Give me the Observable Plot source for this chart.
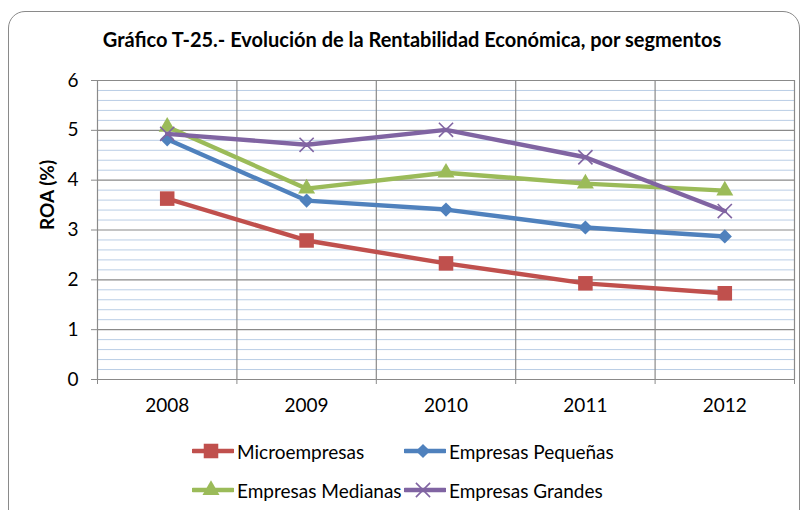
<!DOCTYPE html>
<html>
<head>
<meta charset="utf-8">
<script src="https://cdn.jsdelivr.net/npm/d3@7"></script>
<script src="https://cdn.jsdelivr.net/npm/@observablehq/plot@0.6"></script>
<style>
  html, body { margin: 0; padding: 0; background: #fff; }
  #wrap { position: relative; width: 803px; height: 510px; overflow: hidden; background: #fff; font-family: Lato, "Open Sans", sans-serif; }
  #border { position: absolute; left: 8px; top: 11px; width: 792px; height: 600px; border: 1.5px solid #8a8a8a; border-radius: 17px; box-sizing: border-box; }
  #title { position: absolute; left: 412px; top: 27px; transform: translateX(-50%); white-space: nowrap; font-weight: bold; font-size: 20px; line-height: 24px; color: #000; }
  #chart { position: absolute; left: 0; top: 0; }
  .leg { position: absolute; display: flex; align-items: center; font-size: 19px; color: #000; white-space: nowrap; }
  .leg svg { display: block; margin-right: 3px; }
</style>
</head>
<body>
<div id="wrap">
  <div id="border"></div>
  <div id="chart"></div>
  <div id="title"></div>
</div>
<script>
const title = "Gráfico T-25.- Evolución de la Rentabilidad Económica, por segmentos";
const yLabel = "ROA (%)";
const years = [2008, 2009, 2010, 2011, 2012];
const seriesNames = ["Microempresas", "Empresas Pequeñas", "Empresas Medianas", "Empresas Grandes"];
const micro = [3.63, 2.79, 2.33, 1.93, 1.73];
const pequenas = [4.82, 3.59, 3.41, 3.05, 2.87];
const medianas = [5.07, 3.83, 4.15, 3.93, 3.79];
const grandes = [4.93, 4.71, 5.01, 4.46, 3.38];
const yTicks = [0, 1, 2, 3, 4, 5, 6];

const colors = ["#C0504D", "#4F81BD", "#9BBB59", "#8064A2"];
const symbols = ["square", "diamond2", "triangle", "times"];
const radii = [8.2, 6.4, 6.3, 6.5];
const values = [micro, pequenas, medianas, grandes];

const data = [];
seriesNames.forEach((s, i) => years.forEach((yr, j) => data.push({series: s, year: yr, value: values[i][j]})));

const bounds = d3.range(d3.min(years) - 0.5, d3.max(years) + 0.51, 1);
const minor = d3.range(0, 6.001, 0.2).filter(v => Math.abs(v - Math.round(v)) > 0.01);

document.getElementById("title").textContent = title;

const marks = [
  Plot.gridY(minor, {stroke: "#B9CDE5", strokeOpacity: 1, strokeWidth: 1}),
  Plot.gridY(yTicks, {stroke: "#8a8a8a", strokeOpacity: 1, strokeWidth: 1.2}),
  Plot.gridX(bounds, {stroke: "#8a8a8a", strokeOpacity: 1, strokeWidth: 1.2}),
  Plot.axisY(yTicks, {tickSize: 6, tickPadding: 13, tickFormat: d => String(d), stroke: "#8a8a8a", fill: "#000", fontSize: 19, label: null}),
  Plot.axisX(bounds, {tickSize: 5, tickFormat: () => "", stroke: "#8a8a8a", label: null}),
  Plot.axisX(years, {tickSize: 0, tickPadding: 19, tickFormat: d => String(d), fill: "#000", fontSize: 19, label: null}),
  Plot.text([yLabel], {frameAnchor: "left", dx: -50, rotate: -90, fontWeight: "bold", fontSize: 19, fill: "#000"})
];
seriesNames.forEach((s, i) => {
  const sub = data.filter(d => d.series === s);
  marks.push(Plot.line(sub, {x: "year", y: "value", stroke: colors[i], strokeWidth: 4.4, strokeLinejoin: "round"}));
  if (symbols[i] === "times") {
    marks.push(Plot.dot(sub, {x: "year", y: "value", symbol: symbols[i], r: radii[i], stroke: colors[i], strokeWidth: 1.6, fill: "none"}));
  } else {
    marks.push(Plot.dot(sub, {x: "year", y: "value", symbol: symbols[i], r: radii[i], fill: colors[i], stroke: "none"}));
  }
});

const plot = Plot.plot({
  width: 803,
  height: 510,
  marginTop: 80,
  marginBottom: 131,
  marginLeft: 97,
  marginRight: 9,
  style: {background: "transparent", fontFamily: "Lato, 'Open Sans', sans-serif", fontSize: "19px", color: "#000"},
  x: {type: "linear", domain: [bounds[0], bounds[bounds.length - 1]]},
  y: {domain: [0, 6]},
  marks
});
document.getElementById("chart").appendChild(plot);

// Legend
const wrap = document.getElementById("wrap");
const legPos = [[192, 451], [404, 451], [192, 490], [404, 490]];
seriesNames.forEach((s, i) => {
  const div = document.createElement("div");
  div.className = "leg";
  div.style.left = legPos[i][0] + "px";
  div.style.top = (legPos[i][1] - 12) + "px";
  div.style.height = "24px";
  const sw = d3.create("svg").attr("width", 42).attr("height", 24);
  sw.append("line").attr("x1", 1).attr("x2", 41).attr("y1", 12).attr("y2", 12)
    .attr("stroke", colors[i]).attr("stroke-width", 4.4).attr("stroke-linecap", "round");
  const symType = {square: d3.symbolSquare, diamond2: d3.symbolDiamond2, triangle: d3.symbolTriangle, times: d3.symbolTimes}[symbols[i]];
  const size = Math.PI * radii[i] * radii[i];
  const p = sw.append("path").attr("d", d3.symbol(symType, size)()).attr("transform", "translate(19,12)");
  if (symbols[i] === "times") p.attr("fill", "none").attr("stroke", colors[i]).attr("stroke-width", 1.6);
  else p.attr("fill", colors[i]);
  div.appendChild(sw.node());
  const t = document.createElement("span");
  t.textContent = s;
  div.appendChild(t);
  wrap.appendChild(div);
});
</script>
</body>
</html>
